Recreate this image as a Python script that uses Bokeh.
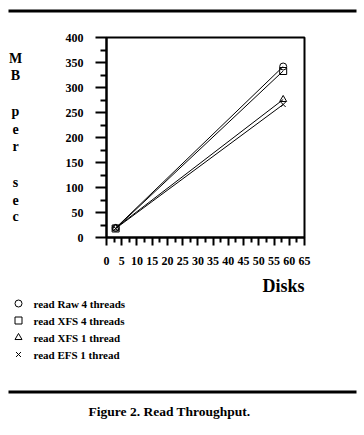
from bokeh.plotting import figure
from bokeh.models import Range1d, FixedTicker
from bokeh.layouts import column, row
from bokeh.core.properties import value
from bokeh.embed import file_html
from bokeh.resources import INLINE

# ---- data ----
disks = [3, 58]
raw4 = [19, 342]
xfs4 = [18, 333]
xfs1 = [19, 276]
efs1 = [18, 266]
series_names = ["read Raw 4 threads", "read XFS 4 threads", "read XFS 1 thread", "read EFS 1 thread"]
x_ticks = [0, 5, 10, 15, 20, 25, 30, 35, 40, 45, 50, 55, 60, 65]
y_ticks = [0, 50, 100, 150, 200, 250, 300, 350, 400]
y_title_letters = ["M", "B", "p", "e", "r", "s", "e", "c"]
x_title = "Disks"
caption = "Figure 2. Read Throughput."

FONT = "Liberation Serif"
PAGE_W = 364
# page-pixel layout
TOP_H = 20          # strip above the chart
YT_W = 40           # strip holding the stacked y title
MAIN_H = 255
BOT_H = 155
FL, FR, FT, FB = 106, 304, 37, 237   # frame edges on the page
XMAX, YMAX = 65, 400
BT, BB = FT - TOP_H, TOP_H + MAIN_H - FB   # top / bottom borders of the chart row


def blank(w, h, y0, y1, **kw):
    f = figure(width=w, height=h, output_backend="svg", toolbar_location=None,
               x_range=Range1d(0, w), y_range=Range1d(y1, y0), **kw)
    f.axis.visible = False
    f.grid.visible = False
    f.outline_line_color = None
    f.background_fill_color = "white"
    f.border_fill_color = "white"
    return f


# ---- top strip: rule ----
top = blank(PAGE_W, TOP_H, 0, TOP_H, min_border=0)
top.quad(left=[8], right=[356], top=[9], bottom=[12], fill_color="black", line_color=None)

# ---- y title strip (its frame is aligned with the chart frame: page y FT..FB) ----
yt = blank(YT_W, MAIN_H, FT, FB, min_border_left=0, min_border_right=0,
           min_border_top=BT, min_border_bottom=BB)
letter_y = [58, 75, 111, 128, 146, 182, 199, 216]
yt.text(x=[15] * len(y_title_letters), y=letter_y, text=y_title_letters,
        text_align="center", text_baseline="middle", text_font=value(FONT),
        text_font_style="bold", text_font_size="14px", text_color="black")

# ---- main chart ----
p = figure(width=PAGE_W - YT_W, height=MAIN_H, output_backend="svg", toolbar_location=None,
           x_range=Range1d(0, XMAX), y_range=Range1d(0, YMAX),
           min_border_left=FL - YT_W, min_border_right=PAGE_W - FR,
           min_border_top=BT, min_border_bottom=BB)
p.grid.visible = False
p.background_fill_color = "white"
p.border_fill_color = "white"
p.outline_line_color = "black"
p.outline_line_width = 2

for ax in (p.xaxis[0], p.yaxis[0]):
    ax.axis_line_width = 2
    ax.major_tick_line_width = 2
    ax.minor_tick_line_width = 2
    ax.major_tick_in = 0
    ax.minor_tick_in = 0
    ax.major_label_text_font = FONT
    ax.major_label_text_font_style = "bold"
    ax.major_label_text_font_size = "12px"
    ax.major_label_text_color = "black"

p.xaxis.ticker = FixedTicker(ticks=x_ticks, minor_ticks=[t + 2.5 for t in x_ticks[:-1]])
p.yaxis.ticker = FixedTicker(ticks=y_ticks, minor_ticks=[t + 25 for t in y_ticks[:-1]])
p.xaxis.major_tick_out = 8
p.xaxis.minor_tick_out = 5
p.xaxis.major_label_standoff = 11
p.yaxis.major_tick_out = 11
p.yaxis.minor_tick_out = 6
p.yaxis.major_label_standoff = 12

all_series = [raw4, xfs4, xfs1, efs1]
markers = ["circle", "square", "triangle", "x"]
for vals, mk in zip(all_series, markers):
    p.line(disks, vals, line_color="black", line_width=1)
    p.scatter(disks, vals, marker=mk, size=7, fill_color=None, line_color="black", line_width=1)

# ---- bottom strip: axis title, legend, rule, caption (page y coordinates) ----
Y0 = TOP_H + MAIN_H
bot = blank(PAGE_W, BOT_H, Y0, Y0 + BOT_H, min_border=0)
bot.text(x=[283], y=[285.5], text=[x_title], text_align="center", text_baseline="middle",
         text_font=value(FONT), text_font_style="bold", text_font_size="18px", text_color="black")
row_y = [303, 320, 337, 354]
for mk, yy in zip(markers, row_y):
    bot.scatter([18], [yy], marker=mk, size=7, fill_color=None, line_color="black", line_width=1)
bot.text(x=[33] * 4, y=row_y, text=series_names, text_align="left", text_baseline="middle",
         text_font=value(FONT), text_font_style="bold", text_font_size="11px", text_color="black")
bot.quad(left=[8], right=[356], top=[390], bottom=[393], fill_color="black", line_color=None)
bot.text(x=[169], y=[411], text=[caption], text_align="center", text_baseline="middle",
         text_font=value(FONT), text_font_style="bold", text_font_size="13.5px", text_color="black")

layout = column(top, row(yt, p), bot)
open("out.html", "w").write(file_html(layout, INLINE))
